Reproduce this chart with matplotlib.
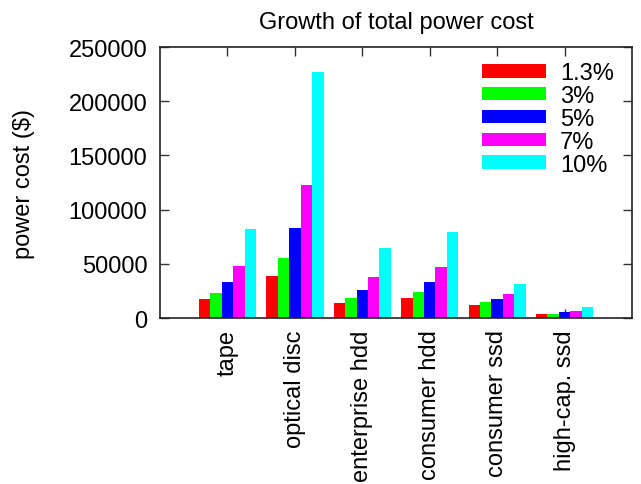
import matplotlib
matplotlib.use("Agg")
import matplotlib.pyplot as plt
import numpy as np

plt.rcParams['font.family'] = ['Liberation Sans', 'DejaVu Sans']

categories = ['tape', 'optical disc', 'enterprise hdd', 'consumer hdd', 'consumer ssd', 'high-cap. ssd']
rates = ['1.3%', '3%', '5%', '7%', '10%']
colors = ['#ff0000', '#00ff00', '#0000ff', '#ff00ff', '#00ffff']

# power cost ($) per growth rate
cost_1_3 = [18000, 39300, 14200, 18900, 12400, 4000]
cost_3 = [23500, 55100, 18900, 24400, 15200, 4000]
cost_5 = [33700, 83000, 26300, 33700, 17900, 5900]
cost_7 = [47700, 123000, 37500, 46700, 22600, 6800]
cost_10 = [82000, 227000, 64400, 79300, 31900, 10500]
series = [cost_1_3, cost_3, cost_5, cost_7, cost_10]

fs = 17

fig = plt.figure(figsize=(6.41, 4.85), dpi=100)
ax = fig.add_axes([0.2496, 0.342, 0.986 - 0.2496, 0.901 - 0.342])

x = np.arange(len(categories))
w = 0.17
for i, (vals, lab, c) in enumerate(zip(series, rates, colors)):
    ax.bar(x + (i - 2) * w, vals, width=w, color=c, label=lab, linewidth=0, zorder=2)

ax.set_xlim(-1, 6)
ax.set_ylim(0, 250000)
ax.set_yticks(range(0, 250001, 50000))
ax.set_xticks(x)
ax.set_xticklabels(categories, rotation=90, fontsize=fs)
ax.tick_params(axis='y', labelsize=fs, pad=9)
ax.tick_params(direction='in', length=6.5, width=1, top=True, right=True, color='#333333')
ax.tick_params(axis='x', pad=8)
ax.set_axisbelow(True)
for s in ax.spines.values():
    s.set_linewidth(1.2)
    s.set_color('#222222')

ax.set_ylabel('power cost ($)', fontsize=fs, labelpad=24)
ax.set_title('Growth of total power cost', fontsize=fs, pad=14)

ax.legend(loc='upper left', frameon=False, fontsize=fs, handlelength=2.7,
          handleheight=0.5, labelspacing=0.035, handletextpad=0.6,
          borderpad=0, borderaxespad=0, bbox_to_anchor=(0.682, 0.944))

fig.savefig('out.png', dpi=100)
